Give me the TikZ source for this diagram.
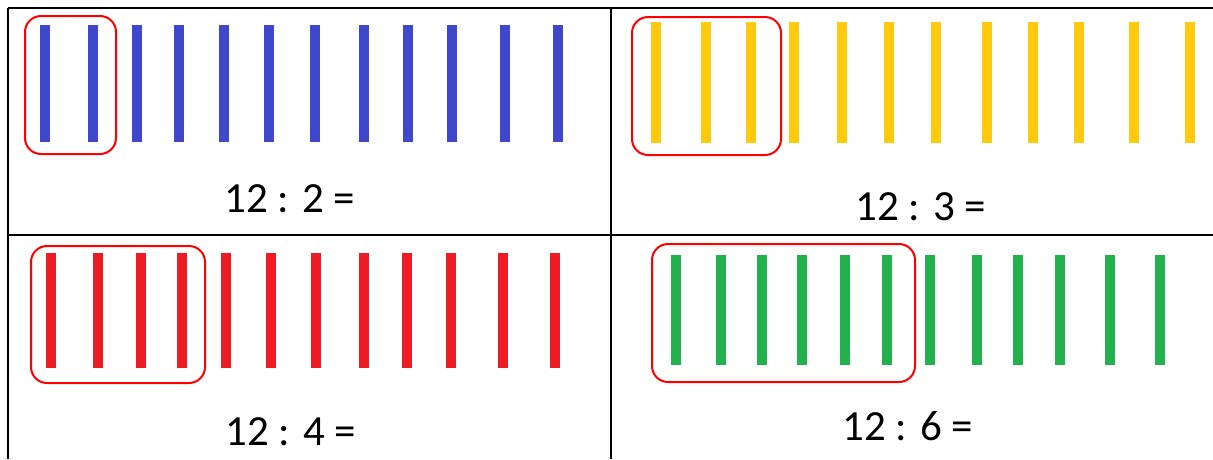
\documentclass[tikz,border=0pt]{standalone}
\usepackage{fontspec}
\setmainfont{Carlito}
\definecolor{BarBlue}{RGB}{63,72,204}
\definecolor{BarYellow}{RGB}{255,201,14}
\definecolor{BarRed}{RGB}{237,28,36}
\definecolor{BarGreen}{RGB}{34,177,76}
\definecolor{BoxRed}{RGB}{255,0,0}
\tikzset{
  rule/.style={line width=2pt,draw=black},
  bar/.style={line width=10pt},
  groupbox/.style={draw=BoxRed,line width=2pt,rounded corners=16pt},
  sum/.style={font=\fontsize{43}{50}\selectfont,text=black,anchor=base,inner sep=0pt}
}
\begin{document}
\begin{tikzpicture}[x=1pt,y=-1pt]
  \useasboundingbox (0,0) rectangle (1213,459);
  % table rules
  \draw[rule] (8,8) -- (1213,8);
  \draw[rule] (8,235) -- (1213,235);
  \draw[rule] (8,8) -- (8,459);
  \draw[rule] (611,8) -- (611,459);
  % 12 : 2
  \foreach \x in {45,93,137,179,224,269,315,364,408,452,505,558}
    \draw[bar,BarBlue] (\x,25) -- (\x,142);
  \draw[groupbox] (25,16) rectangle (116,154);
  \node[sum] (divtwo) at (290,212) {12 : 2 =};
  % 12 : 3
  \foreach \x in {656,706,751,794,842,889,936,987,1033,1079,1134,1190}
    \draw[bar,BarYellow] (\x,22) -- (\x,143);
  \draw[groupbox] (632,17) rectangle (781,155);
  \node[sum] (divthree) at (921,220) {12 : 3 =};
  % 12 : 4
  \foreach \x in {51,98,141,182,226,271,316,364,407,451,503,555}
    \draw[bar,BarRed] (\x,253) -- (\x,368);
  \draw[groupbox] (31,246) rectangle (205,383);
  \node[sum] (divfour) at (291,445) {12 : 4 =};
  % 12 : 6
  \foreach \x in {676,721,762,802,845,887,930,977,1018,1060,1110,1160}
    \draw[bar,BarGreen] (\x,255) -- (\x,365);
  \draw[groupbox] (652,244) rectangle (915,382);
  \node[sum] (divsix) at (908,440) {12 : 6 =};
\end{tikzpicture}
\end{document}
